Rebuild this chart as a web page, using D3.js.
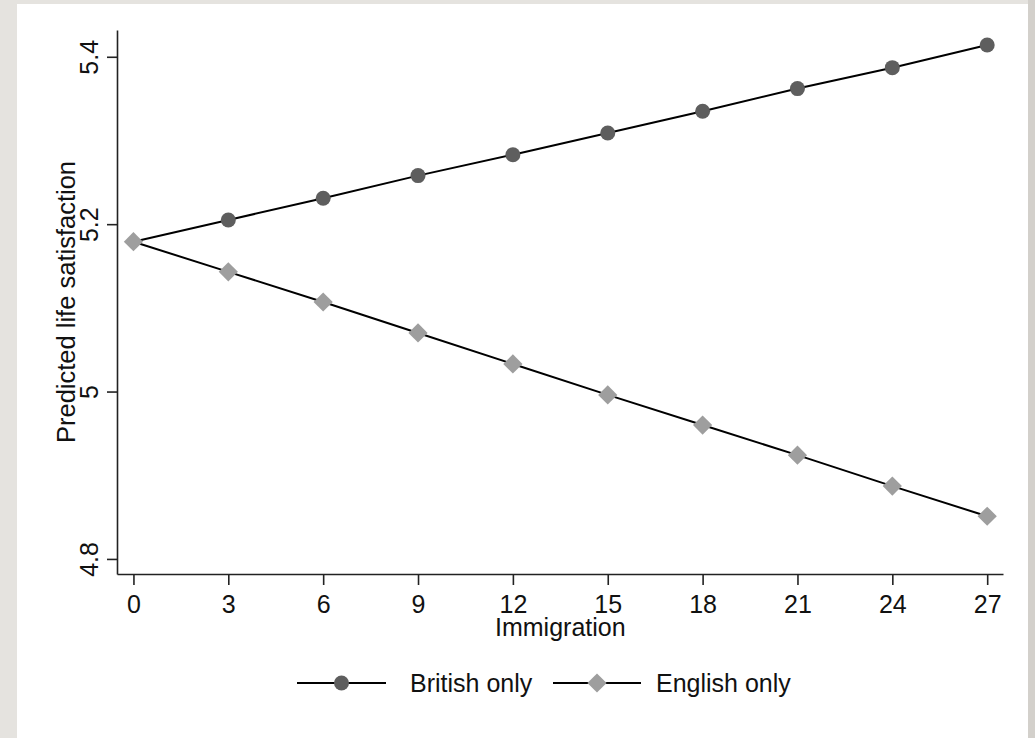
<!DOCTYPE html>
<html>
<meta charset="utf-8">
<head>
  <script src="https://d3js.org/d3.v7.min.js"></script>
  <style>
    body { margin: 0; background: #e5e3df; }
    svg { display: block; font-family: "Liberation Sans", Arial, sans-serif; }
  </style>
</head>
<body>
<div id="chart"></div>
<script>
  // data
  var immigration = [0, 3, 6, 9, 12, 15, 18, 21, 24, 27];
  var britishOnly = [5.179, 5.205, 5.231, 5.258, 5.283, 5.309, 5.335, 5.362, 5.387, 5.414];
  var englishOnly = [5.179, 5.143, 5.107, 5.070, 5.033, 4.996, 4.960, 4.924, 4.887, 4.851];
  var yTicks = [4.8, 5, 5.2, 5.4];
  var seriesNames = ["British only", "English only"];

  var W = 1035, H = 738;
  var svg = d3.select("#chart").append("svg")
      .attr("width", W)
      .attr("height", H);

  // panel
  svg.append("rect").attr("x", 17).attr("y", 4).attr("width", 1011).attr("height", H - 4).attr("fill", "#fff");
  svg.append("rect").attr("x", 1028).attr("y", 0).attr("width", 7).attr("height", H).attr("fill", "#d3d0cb");

  var x = d3.scaleLinear().domain([-0.52, 27.5]).range([117, 1003]);
  var y = d3.scaleLinear().domain([4.782, 5.432]).range([574, 30]);

  var ink = "#222";
  var fs = 25;

  // y axis
  var gy = svg.append("g").attr("transform", "translate(117,0)")
      .call(d3.axisLeft(y).tickValues(yTicks).tickSize(10).tickSizeOuter(0).tickFormat(d3.format("")));
  gy.select(".domain").attr("stroke", ink).attr("stroke-width", 1.6);
  gy.selectAll(".tick line").attr("stroke", ink).attr("stroke-width", 1.6);
  gy.selectAll(".tick text")
      .attr("x", null).attr("dy", null)
      .attr("transform", "translate(-19,0) rotate(-90)")
      .attr("text-anchor", "middle")
      .attr("font-size", fs)
      .attr("fill", "#111");

  // x axis
  var gx = svg.append("g").attr("transform", "translate(0,574)")
      .call(d3.axisBottom(x).tickValues(immigration).tickSize(11).tickSizeOuter(0));
  gx.select(".domain").attr("stroke", ink).attr("stroke-width", 1.6);
  gx.selectAll(".tick line").attr("stroke", ink).attr("stroke-width", 1.6);
  gx.selectAll(".tick text")
      .attr("y", 39).attr("dy", null)
      .attr("font-size", fs)
      .attr("fill", "#111");

  svg.append("text")
      .attr("x", x(13.5)).attr("y", 636)
      .attr("text-anchor", "middle")
      .attr("font-size", fs)
      .attr("fill", "#111")
      .text("Immigration");

  svg.append("text")
      .attr("transform", "translate(75," + y(5.107) + ") rotate(-90)")
      .attr("text-anchor", "middle")
      .attr("font-size", fs + 0.5)
      .attr("fill", "#111")
      .text("Predicted life satisfaction");

  var line = d3.line()
      .x(function(d, i) { return x(immigration[i]); })
      .y(function(d) { return y(d); });

  var diamond = d3.symbol().type(d3.symbolSquare).size(185);

  svg.append("path").datum(britishOnly)
      .attr("d", line).attr("fill", "none").attr("stroke", "#000").attr("stroke-width", 2);
  svg.append("path").datum(englishOnly)
      .attr("d", line).attr("fill", "none").attr("stroke", "#000").attr("stroke-width", 2);

  svg.append("g").selectAll("path")
      .data(englishOnly)
      .enter().append("path")
      .attr("d", diamond)
      .attr("transform", function(d, i) { return "translate(" + x(immigration[i]) + "," + y(d) + ") rotate(45)"; })
      .attr("fill", "#9e9e9e");

  svg.append("g").selectAll("circle")
      .data(britishOnly)
      .enter().append("circle")
      .filter(function(d, i) { return i > 0; })
      .attr("cx", function(d, i) { return x(immigration[i + 1]); })
      .attr("cy", function(d) { return y(d); })
      .attr("r", 7.5)
      .attr("fill", "#5e5e5e");

  // legend
  var legend = [
    {x1: 297, x2: 386, tx: 410},
    {x1: 553, x2: 641, tx: 656}
  ];
  legend.forEach(function(l, i) {
    var g = svg.append("g");
    g.append("line").attr("x1", l.x1).attr("x2", l.x2).attr("y1", 683).attr("y2", 683)
        .attr("stroke", "#000").attr("stroke-width", 2);
    var cx = (l.x1 + l.x2) / 2;
    if (i === 0) {
      g.append("circle").attr("cx", cx).attr("cy", 683).attr("r", 7.5).attr("fill", "#5e5e5e");
    } else {
      g.append("path").attr("d", diamond)
          .attr("transform", "translate(" + cx + ",683) rotate(45)")
          .attr("fill", "#9e9e9e");
    }
    g.append("text").attr("x", l.tx).attr("y", 692)
        .attr("font-size", fs).attr("fill", "#111")
        .text(seriesNames[i]);
  });
</script>
</body>
</html>
